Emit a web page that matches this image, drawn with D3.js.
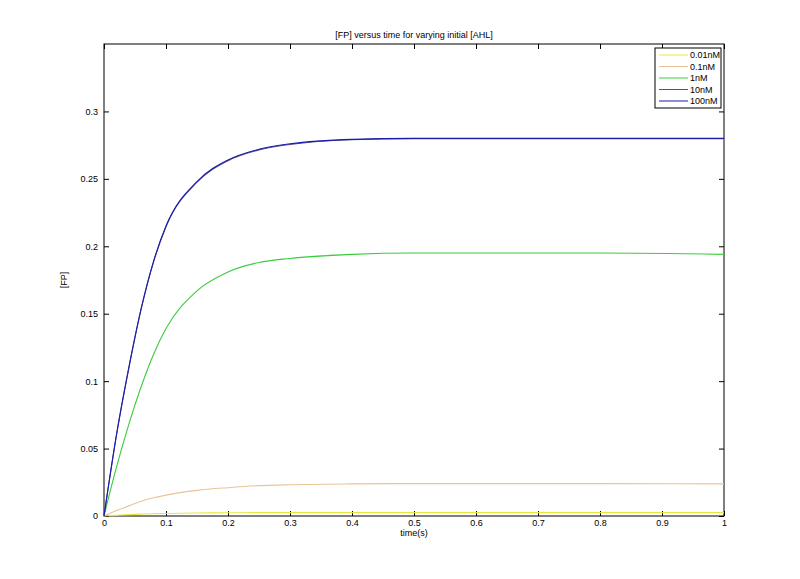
<!DOCTYPE html><html><head><script src="https://cdn.jsdelivr.net/npm/d3@7"></script>
<style>body{margin:0;background:#fff}text{font-family:"Liberation Sans",Arial,sans-serif;font-size:9px}</style></head><body><svg id="c" width="800" height="579"></svg>
<script>
const times=[0,0.02,0.04,0.06,0.08,0.1,0.15,0.2,0.25,0.3,0.4,0.5,0.6,0.8,1.0];
const s001=[0,0.0005,0.001,0.0014,0.0017,0.0019,0.0022,0.0024,0.0025,0.0025,0.0025,0.0025,0.0025,0.0025,0.0025];
const s01=[0,0.004,0.0075,0.011,0.0135,0.0155,0.019,0.021,0.0225,0.0232,0.0238,0.024,0.024,0.024,0.0238];
const s1=[0,0.036,0.068,0.096,0.12,0.139,0.167,0.181,0.188,0.191,0.194,0.195,0.195,0.195,0.194];
const s10=[0,0.0595,0.1095,0.1535,0.1885,0.2145,0.2475,0.2635,0.2715,0.2755,0.279,0.2798,0.2798,0.2798,0.2798];
const s100=[0,0.06,0.11,0.154,0.189,0.215,0.248,0.264,0.272,0.276,0.2793,0.28,0.28,0.28,0.28];
const names=["0.01nM","0.1nM","1nM","10nM","100nM"];
const colors=["#e6e640","#e8c497","#3ccc3c","#50508a","#1c1ca8"];
const series=[s001,s01,s1,s10,s100];
const xTicks=[0,0.1,0.2,0.3,0.4,0.5,0.6,0.7,0.8,0.9,1];
const yTicks=[0,0.05,0.1,0.15,0.2,0.25,0.3];
const L=104,R=724,T=44,B=516;
const svg=d3.select("#c");
const x=d3.scaleLinear().domain([0,1]).range([L,R]);
const y=d3.scaleLinear().domain([0,0.35]).range([B,T]);
const g=svg.append("g");
g.append("rect").attr("x",L).attr("y",T).attr("width",R-L).attr("height",B-T).attr("fill","#fff").attr("stroke","#000");
const fmt=d=>d===0?"0":String(d);
g.append("g").attr("transform",`translate(0,${B})`).call(d3.axisBottom(x).tickValues(xTicks).tickFormat(fmt).tickSizeInner(-5).tickSizeOuter(0).tickPadding(4));
g.append("g").attr("transform",`translate(0,${T})`).call(d3.axisTop(x).tickValues(xTicks).tickFormat("").tickSizeInner(-5).tickSizeOuter(0));
g.append("g").attr("transform",`translate(${L},0)`).call(d3.axisLeft(y).tickValues(yTicks).tickFormat(fmt).tickSizeInner(-5).tickSizeOuter(0).tickPadding(6));
g.append("g").attr("transform",`translate(${R},0)`).call(d3.axisRight(y).tickValues(yTicks).tickFormat("").tickSizeInner(-5).tickSizeOuter(0));
svg.selectAll(".domain").remove();
svg.selectAll(".tick text").attr("fill","#000").style("font-size","9px");
const line=d3.line().x((d,i)=>x(times[i])).y(d=>y(d)).curve(d3.curveMonotoneX);
series.forEach((s,i)=>svg.append("path").attr("d",line(s)).attr("fill","none").attr("stroke",colors[i]).attr("stroke-width",1.1));
svg.append("text").attr("x",(L+R)/2).attr("y",38).attr("text-anchor","middle").text("[FP] versus time for varying initial [AHL]");
svg.append("text").attr("x",(L+R)/2).attr("y",536).attr("text-anchor","middle").text("time(s)");
svg.append("text").attr("transform",`translate(67,${(T+B)/2}) rotate(-90)`).attr("text-anchor","middle").text("[FP]");
const lg=svg.append("g");
lg.append("rect").attr("x",655).attr("y",48).attr("width",66).attr("height",60).attr("fill","#fff").attr("stroke","#000");
names.forEach((n,i)=>{const yy=55+i*11.5;
lg.append("line").attr("x1",659).attr("x2",688).attr("y1",yy).attr("y2",yy).attr("stroke",colors[i]);
lg.append("text").attr("x",690).attr("y",yy+3).text(n);});
</script></body></html>
